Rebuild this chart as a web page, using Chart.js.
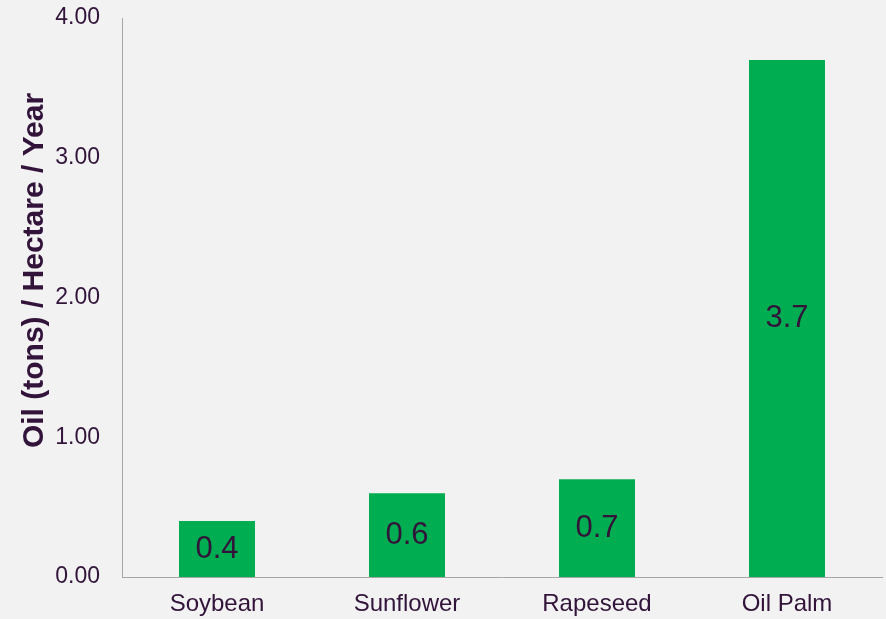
<!DOCTYPE html>
<html>
<head>
<meta charset="utf-8">
<script src="https://cdn.jsdelivr.net/npm/chart.js@4"></script>
<style>
  html, body { margin: 0; padding: 0; background: #f2f2f2; }
  #wrap { width: 886px; height: 619px; }
</style>
</head>
<body>
<div id="wrap"><canvas id="chart"></canvas></div>
<script>
const categories = ['Soybean', 'Sunflower', 'Rapeseed', 'Oil Palm'];
const oilYield = [0.4, 0.6, 0.7, 3.7];
const yTicks = [0, 1, 2, 3, 4];
const yTitle = 'Oil (tons) / Hectare / Year';

const textColor = '#32133a';
const fontFamily = 'Arial, "Liberation Sans", sans-serif';

// value labels in the middle of each bar, plus the rotated y title
const barLabels = {
    id: 'barLabels',
    afterDatasetsDraw(chart) {
        const ctx = chart.ctx;
        const meta = chart.getDatasetMeta(0);
        ctx.save();
        ctx.font = '31px ' + fontFamily;
        ctx.fillStyle = textColor;
        ctx.textAlign = 'center';
        ctx.textBaseline = 'middle';
        meta.data.forEach((bar, i) => {
            const mid = (bar.y + bar.base) / 2;
            ctx.fillText(String(oilYield[i]), bar.x, mid);
        });
        ctx.restore();
    },
    afterDraw(chart) {
        const ctx = chart.ctx;
        const area = chart.chartArea;
        ctx.save();
        ctx.font = 'bold 30px ' + fontFamily;
        ctx.fillStyle = textColor;
        ctx.textAlign = 'center';
        ctx.textBaseline = 'middle';
        ctx.translate(35, (area.top + area.bottom) / 2 - 27);
        ctx.rotate(-Math.PI / 2);
        ctx.fillText(yTitle, 0, 0);
        ctx.restore();
    }
};

new Chart(document.getElementById('chart'), {
    type: 'bar',
    data: {
        labels: categories,
        datasets: [{
            data: oilYield,
            backgroundColor: '#00ad50',
            barPercentage: 0.4,
            categoryPercentage: 1
        }]
    },
    options: {
        responsive: true,
        maintainAspectRatio: false,
        animation: false,
        layout: { padding: { top: 18, right: 4, left: 0, bottom: 0 } },
        plugins: {
            legend: { display: false },
            tooltip: { enabled: false }
        },
        scales: {
            x: {
                grid: { display: false, drawTicks: false },
                border: { display: true, color: '#a6a6a6', width: 1 },
                ticks: {
                    color: textColor,
                    padding: 13,
                    font: { family: fontFamily, size: 24 }
                },
                afterFit(scale) { scale.height = 42; }
            },
            y: {
                min: 0,
                max: 4,
                afterBuildTicks(scale) { scale.ticks = yTicks.map(v => ({ value: v })); },
                grid: { display: false, drawTicks: false },
                border: { display: true, color: '#a6a6a6', width: 1 },
                ticks: {
                    color: textColor,
                    padding: 22,
                    font: { family: fontFamily, size: 23 },
                    callback: v => v.toFixed(2)
                },
                afterFit(scale) {
                    scale.width = 122;
                    scale.paddingTop = 0;
                    scale.paddingBottom = 0;
                }
            }
        }
    },
    plugins: [barLabels]
});
</script>
</body>
</html>
